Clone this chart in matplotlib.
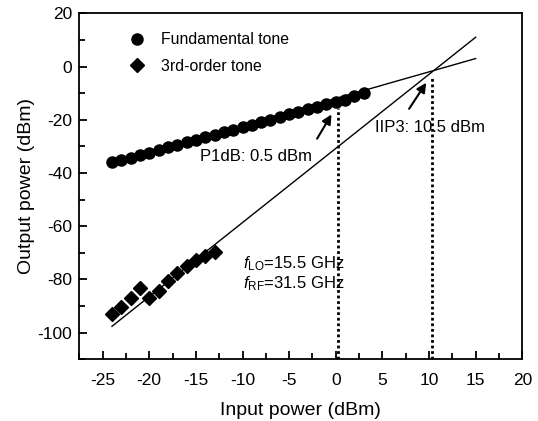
import matplotlib

matplotlib.use("Agg")
import matplotlib.pyplot as plt
from matplotlib.ticker import MultipleLocator

plt.rcParams["font.family"] = ["Liberation Sans", "DejaVu Sans"]
plt.rcParams["axes.unicode_minus"] = False
plt.rcParams["mathtext.fontset"] = "custom"
plt.rcParams["mathtext.it"] = "Liberation Sans:italic"
plt.rcParams["mathtext.rm"] = "Liberation Sans"

# measured points
fund_x = list(range(-24, 4))
fund_y = [-36.0, -35.2, -34.2, -33.3, -32.4, -31.5, -30.3, -29.4, -28.4, -27.5,
          -26.5, -25.6, -24.6, -23.7, -22.7, -21.8, -20.8, -19.9, -18.9, -18.0,
          -17.0, -16.1, -15.1, -14.2, -13.3, -12.4, -11.2, -10.0]
third_x = list(range(-24, -12))
third_y = [-93.0, -90.3, -86.8, -83.3, -86.8, -84.3, -80.7, -77.4, -75.1, -72.6,
           -71.2, -69.6]

# extrapolated fits
fund_fit_x = [-24, 15]
fund_fit_y = [-36.0, 3.0]
third_fit_x = [-24, 15]
third_fit_y = [-97.6, 11.0]

# P1dB / IIP3 markers
p1db_x, p1db_top = 0.2, -15.5
iip3_x, iip3_top = 10.3, -4.2

fig = plt.figure(figsize=(5.38, 4.21), dpi=100)
ax = fig.add_axes([0.1474, 0.1465, 0.8234, 0.8219])

ax.plot(fund_fit_x, fund_fit_y, color="black", lw=1.0)
ax.plot(third_fit_x, third_fit_y, color="black", lw=1.0)
ax.plot(fund_x, fund_y, "o", color="black", ms=8, label="Fundamental tone")
ax.plot(third_x, third_y, "D", color="black", ms=7, label="3rd-order tone")

ax.plot([p1db_x, p1db_x], [-110, p1db_top], color="black", lw=2.0, ls=(0, (1, 1)))
ax.plot([iip3_x, iip3_x], [-110, iip3_top], color="black", lw=2.0, ls=(0, (1, 1)))

arrow = dict(arrowstyle="-|>", color="black", lw=1.5, mutation_scale=14,
             shrinkA=0, shrinkB=0)
ax.annotate("", xy=(-0.46, -18.0), xytext=(-2.0, -27.1), arrowprops=arrow)
ax.annotate("", xy=(9.7, -6.1), xytext=(7.86, -15.9), arrowprops=arrow)

ax.text(-14.6, -33.7, "P1dB: 0.5 dBm", fontsize=12, va="center")
ax.text(4.2, -22.9, "IIP3: 10.5 dBm", fontsize=12, va="center")
ax.text(-9.9, -73.9, r"$\mathit{f}_{\mathrm{LO}}$=15.5 GHz", fontsize=12, va="center")
ax.text(-9.9, -81.4, r"$\mathit{f}_{\mathrm{RF}}$=31.5 GHz", fontsize=12, va="center")

ax.set_xlim(-27.5, 20)
ax.set_ylim(-110, 20)
ax.xaxis.set_major_locator(MultipleLocator(5))
ax.xaxis.set_minor_locator(MultipleLocator(2.5))
ax.yaxis.set_major_locator(MultipleLocator(20))
ax.yaxis.set_minor_locator(MultipleLocator(10))
ax.tick_params(which="both", direction="in", width=1.3, labelsize=12.5)
ax.tick_params(which="major", length=6)
ax.tick_params(which="minor", length=4)
ax.tick_params(axis="x", which="major", pad=10)
ax.tick_params(axis="y", which="major", pad=5)
for s in ax.spines.values():
    s.set_linewidth(1.3)

ax.set_xlabel("Input power (dBm)", fontsize=14, labelpad=10)
ax.set_ylabel("Output power (dBm)", fontsize=14, labelpad=2)

ax.legend(loc="upper left", frameon=False, fontsize=11.4, handletextpad=0.5,
          borderaxespad=0.0, bbox_to_anchor=(0.081, 0.964), labelspacing=0.75)

fig.savefig("out.png", dpi=100)
